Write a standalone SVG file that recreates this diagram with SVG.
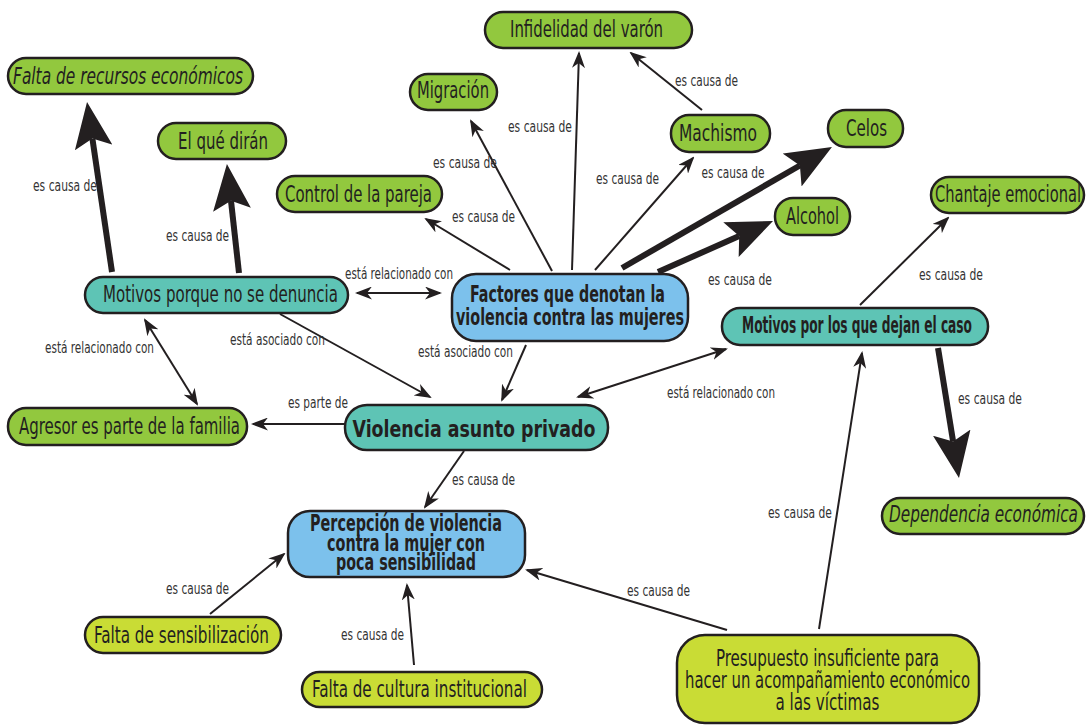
<svg xmlns="http://www.w3.org/2000/svg" width="1086" height="726" viewBox="0 0 1086 726">
<defs>
<style>
.n{stroke:#231f20;stroke-width:2.5}
.g{fill:#92c83e}.y{fill:#c9dc35}.t{fill:#5ec4b5}.b{fill:#7cc1ec}
.tx{font-family:"Liberation Sans Narrow","DejaVu Sans Condensed","Liberation Sans",sans-serif;font-size:23px;fill:#231f20;text-anchor:middle}
.bd{font-weight:bold}
.it{font-style:italic}
.lb{font-family:"Liberation Sans Narrow","DejaVu Sans Condensed","Liberation Sans",sans-serif;font-size:15.5px;fill:#333;text-anchor:middle}
.c{stroke:#231f20;stroke-width:2;fill:none;marker-end:url(#a)}
.d{marker-start:url(#a)}
.k{stroke:#231f20;stroke-width:6;fill:none;marker-end:url(#h)}
</style>
<marker id="a" markerUnits="userSpaceOnUse" markerWidth="17" markerHeight="13" refX="15" refY="6.5" orient="auto-start-reverse"><path d="M0,0 L17,6.5 L0,13 L5,6.5 z" fill="#231f20"/></marker>
<marker id="h" markerUnits="userSpaceOnUse" markerWidth="46" markerHeight="38" refX="9" refY="19" orient="auto"><path d="M0,0 L46,19 L0,38 L9,19 z" fill="#231f20"/></marker>
</defs>
<rect width="1086" height="726" fill="#fff"/>
<g id="connectors">
<path class="k" d="M112,272 L92.4,138.6"/>
<path class="k" d="M239,273 L231,200.8"/>
<path class="k" d="M622,268 L799.9,165.5"/>
<path class="k" d="M658,272 L739.2,236"/>
<path class="k" d="M938,348 L953.1,441.5"/>
<path class="c" d="M510,270 L426,219"/>
<path class="c" d="M552,271 L471,121"/>
<path class="c" d="M572,270 L579,53"/>
<path class="c" d="M595,270 L693,158"/>
<path class="c" d="M702,110 L631,53"/>
<path class="c" d="M860,305 L948,218"/>
<path class="c d" d="M578,397 L726,349"/>
<path class="c" d="M526,345 L502,400"/>
<path class="c" d="M280,314 L430,397"/>
<path class="c d" d="M145,320 L197,404"/>
<path class="c" d="M345,424 L253,424"/>
<path class="c d" d="M357,293 L440,293"/>
<path class="c" d="M464,451 L425,507"/>
<path class="c" d="M210,614 L284,554"/>
<path class="c" d="M414,665 L407,585"/>
<path class="c" d="M727,630 L527,570"/>
<path class="c" d="M819,629 L862,353"/>
<text class="lb" x="65" y="191" textLength="64" lengthAdjust="spacingAndGlyphs">es causa de</text>
<text class="lb" x="197.5" y="241" textLength="63" lengthAdjust="spacingAndGlyphs">es causa de</text>
<text class="lb" x="399" y="279" textLength="108" lengthAdjust="spacingAndGlyphs">está relacionado con</text>
<text class="lb" x="277.5" y="345" textLength="95" lengthAdjust="spacingAndGlyphs">está asociado con</text>
<text class="lb" x="99.5" y="353" textLength="109" lengthAdjust="spacingAndGlyphs">está relacionado con</text>
<text class="lb" x="318" y="408" textLength="60" lengthAdjust="spacingAndGlyphs">es parte de</text>
<text class="lb" x="465.5" y="357" textLength="95" lengthAdjust="spacingAndGlyphs">está asociado con</text>
<text class="lb" x="483.5" y="222" textLength="63" lengthAdjust="spacingAndGlyphs">es causa de</text>
<text class="lb" x="465" y="168" textLength="64" lengthAdjust="spacingAndGlyphs">es causa de</text>
<text class="lb" x="540" y="132" textLength="64" lengthAdjust="spacingAndGlyphs">es causa de</text>
<text class="lb" x="627.5" y="184" textLength="63" lengthAdjust="spacingAndGlyphs">es causa de</text>
<text class="lb" x="733" y="178" textLength="63" lengthAdjust="spacingAndGlyphs">es causa de</text>
<text class="lb" x="706.5" y="86" textLength="63" lengthAdjust="spacingAndGlyphs">es causa de</text>
<text class="lb" x="740" y="285" textLength="64" lengthAdjust="spacingAndGlyphs">es causa de</text>
<text class="lb" x="951" y="280" textLength="64" lengthAdjust="spacingAndGlyphs">es causa de</text>
<text class="lb" x="990" y="404" textLength="64" lengthAdjust="spacingAndGlyphs">es causa de</text>
<text class="lb" x="721" y="398" textLength="108" lengthAdjust="spacingAndGlyphs">está relacionado con</text>
<text class="lb" x="483.5" y="485" textLength="63" lengthAdjust="spacingAndGlyphs">es causa de</text>
<text class="lb" x="197.5" y="594" textLength="63" lengthAdjust="spacingAndGlyphs">es causa de</text>
<text class="lb" x="372.5" y="640" textLength="63" lengthAdjust="spacingAndGlyphs">es causa de</text>
<text class="lb" x="658.5" y="596" textLength="63" lengthAdjust="spacingAndGlyphs">es causa de</text>
<text class="lb" x="800" y="518" textLength="64" lengthAdjust="spacingAndGlyphs">es causa de</text>
</g>
<g id="falta-recursos"><rect class="n g" x="8" y="58" width="245" height="36" rx="18"/><text class="tx it" x="128" y="84" textLength="230" lengthAdjust="spacingAndGlyphs">Falta de recursos económicos</text></g>
<g id="que-diran"><rect class="n g" x="158" y="123" width="128" height="36" rx="18"/><text class="tx" x="223" y="149" textLength="90" lengthAdjust="spacingAndGlyphs">El qué dirán</text></g>
<g id="control"><rect class="n g" x="277" y="176" width="165" height="36" rx="18"/><text class="tx" x="358.5" y="202" textLength="147" lengthAdjust="spacingAndGlyphs">Control de la pareja</text></g>
<g id="migracion"><rect class="n g" x="410" y="74" width="87" height="36" rx="18"/><text class="tx" x="453" y="98" textLength="72" lengthAdjust="spacingAndGlyphs">Migración</text></g>
<g id="infidelidad"><rect class="n g" x="485" y="12" width="207" height="36" rx="18"/><text class="tx" x="586.5" y="37" textLength="153" lengthAdjust="spacingAndGlyphs">Infidelidad del varón</text></g>
<g id="machismo"><rect class="n g" x="671" y="115" width="99" height="37" rx="18"/><text class="tx" x="718" y="141" textLength="78" lengthAdjust="spacingAndGlyphs">Machismo</text></g>
<g id="celos"><rect class="n g" x="828" y="110" width="75" height="37" rx="18"/><text class="tx" x="866.5" y="136" textLength="41" lengthAdjust="spacingAndGlyphs">Celos</text></g>
<g id="alcohol"><rect class="n g" x="775" y="198" width="75" height="37" rx="18"/><text class="tx" x="812.5" y="224" textLength="53" lengthAdjust="spacingAndGlyphs">Alcohol</text></g>
<g id="chantaje"><rect class="n g" x="931" y="177" width="153" height="36" rx="18"/><text class="tx" x="1008" y="202" textLength="146" lengthAdjust="spacingAndGlyphs">Chantaje emocional</text></g>
<g id="motivos-denuncia"><rect class="n t" x="85" y="277" width="263" height="36" rx="18"/><text class="tx" x="220.5" y="302" textLength="235" lengthAdjust="spacingAndGlyphs">Motivos porque no se denuncia</text></g>
<g id="factores"><rect class="n b" x="452" y="274" width="236" height="67" rx="24"/><text class="tx bd" font-size="20.5" x="567.5" y="302" textLength="195" lengthAdjust="spacingAndGlyphs">Factores que denotan la</text><text class="tx bd" font-size="20.5" x="570" y="325" textLength="228" lengthAdjust="spacingAndGlyphs">violencia contra las mujeres</text></g>
<g id="motivos-dejan"><rect class="n t" x="722" y="308" width="266" height="37" rx="18"/><text class="tx bd" font-size="20.5" x="857" y="333" textLength="230" lengthAdjust="spacingAndGlyphs">Motivos por los que dejan el caso</text></g>
<g id="agresor"><rect class="n g" x="8" y="408" width="239" height="37" rx="18"/><text class="tx" x="129.5" y="434" textLength="221" lengthAdjust="spacingAndGlyphs">Agresor es parte de la familia</text></g>
<g id="violencia-privado"><rect class="n t" x="345" y="405" width="263" height="45" rx="22"/><text class="tx bd" font-size="27" x="474" y="437" textLength="243" lengthAdjust="spacingAndGlyphs">Violencia asunto privado</text></g>
<g id="percepcion"><rect class="n b" x="288" y="511" width="237" height="66" rx="22"/><text class="tx bd" font-size="20.5" x="406" y="531" textLength="192" lengthAdjust="spacingAndGlyphs">Percepción de violencia</text><text class="tx bd" font-size="20.5" x="406" y="551" textLength="158" lengthAdjust="spacingAndGlyphs">contra la mujer con</text><text class="tx bd" font-size="20.5" x="406" y="570" textLength="140" lengthAdjust="spacingAndGlyphs">poca sensibilidad</text></g>
<g id="falta-sensibilizacion"><rect class="n y" x="85" y="617" width="196" height="36" rx="18"/><text class="tx" x="181.5" y="643" textLength="175" lengthAdjust="spacingAndGlyphs">Falta de sensibilización</text></g>
<g id="falta-cultura"><rect class="n y" x="302" y="672" width="240" height="35" rx="17.5"/><text class="tx" x="419.5" y="697" textLength="215" lengthAdjust="spacingAndGlyphs">Falta de cultura institucional</text></g>
<g id="presupuesto"><rect class="n y" x="677" y="635" width="302" height="88" rx="28"/><text class="tx" x="827.5" y="666" textLength="223" lengthAdjust="spacingAndGlyphs">Presupuesto insuficiente para</text><text class="tx" x="827.5" y="688" textLength="285" lengthAdjust="spacingAndGlyphs">hacer un acompañamiento económico</text><text class="tx" x="827.5" y="710" textLength="104" lengthAdjust="spacingAndGlyphs">a las víctimas</text></g>
<g id="dependencia"><rect class="n g" x="882" y="498" width="202" height="36" rx="18"/><text class="tx it" x="983.5" y="522" textLength="189" lengthAdjust="spacingAndGlyphs">Dependencia económica</text></g>
</svg>
